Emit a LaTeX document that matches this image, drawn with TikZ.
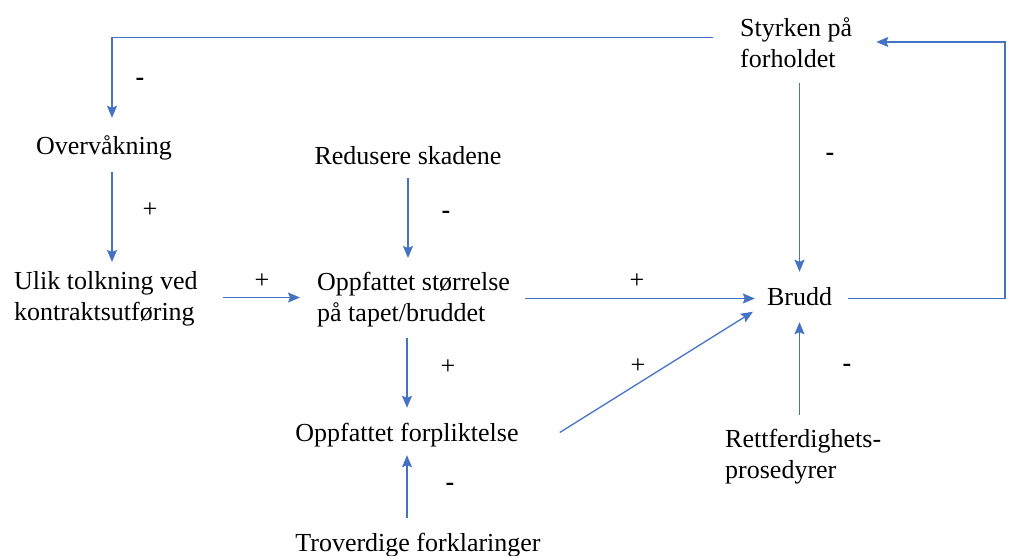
\documentclass[tikz,border=0pt]{standalone}
\usepackage{fontspec}
\setmainfont{Liberation Serif}
\usetikzlibrary{arrows.meta}
\definecolor{arrblue}{HTML}{4472C4}

\begin{document}
\begin{tikzpicture}[x=1pt, y=-1pt,
  every node/.style={inner sep=0pt, font=\fontsize{26}{31}\selectfont},
  lbl/.style={text height=19pt, text depth=6pt},
  blk/.style={align=left, anchor=north west},
  arr/.style={draw=arrblue, line width=1.3pt, -{Stealth[length=12pt, width=10pt, inset=2pt]}},
  sign/.style={font=\fontsize{26}{31}\selectfont}]

\useasboundingbox (0,0) rectangle (1028,556);

\node[blk] (sty) at (740, 17) {Styrken på\\forholdet};
\node[lbl] (ovr) at (104, 148.5) {Overvåkning};
\node[lbl] (red) at (408, 158.5) {Redusere skadene};
\node[blk] (ulik) at (14, 271) {Ulik tolkning ved\\kontraktsutføring};
\node[blk] (stor) at (317, 272) {Oppfattet størrelse\\på tapet/bruddet};
\node[lbl] (brudd) at (799.5, 298.5) {Brudd};
\node[lbl] (forp) at (407, 434.5) {Oppfattet forpliktelse};
\node[blk] (rett) at (725, 429) {Rettferdighets-\\prosedyrer};
\node[lbl] (trov) at (418, 544.5) {Troverdige forklaringer};

\node[sign] (m1) at (140, 82) {\textbf{-}};
\node[sign] (p1) at (150, 210) {+};
\node[sign] (p2) at (262, 281) {+};
\node[sign] (m2) at (446, 215) {\textbf{-}};
\node[sign] (p3) at (637, 281) {+};
\node[sign] (p4) at (448, 367) {+};
\node[sign] (p5) at (638, 366) {+};
\node[sign] (m3) at (450, 487) {\textbf{-}};
\node[sign] (m4) at (847, 368) {\textbf{-}};
\node[sign] (m5) at (830, 157) {\textbf{-}};

\coordinate (loopR) at (1005, 42);

\draw[arr, shorten <=27pt, shorten >=18pt] ([yshift=4.5pt]sty.west) -| ([xshift=8pt]ovr.north);
\draw[arr, shorten <=11pt, shorten >=9pt] ([xshift=8pt]ovr.south) -- ([xshift=8pt]ovr.south |- ulik.north);
\draw[arr, shorten <=25pt, shorten >=17pt] ([yshift=1pt]ulik.east) -- ([yshift=1pt]ulik.east -| stor.west);
\draw[arr, shorten <=7pt, shorten >=14pt] (red.south) -- (red.south |- stor.north);
\draw[arr, shorten <=15pt, shorten >=12pt] (brudd.west -| stor.east) -- (brudd.west);
\draw[arr, shorten <=11pt, shorten >=14pt] (stor.south -| forp.north) -- (forp.north);
\draw[arr, shorten >=1pt] ([xshift=41pt, yshift=2pt]forp.east) -- ([xshift=-13pt]brudd.south west);
\draw[arr, shorten <=14pt, shorten >=8pt] (forp.south |- trov.north) -- (forp.south);
\draw[arr, shorten <=14pt, shorten >=11pt] (brudd.south |- rett.north) -- (brudd.south);
\draw[arr, shorten <=16pt, shorten >=14pt] (sty.south -| brudd.north) -- (brudd.north);
\draw[arr, shorten <=16pt, shorten >=24pt] (brudd.east) -| (loopR) -- (sty.east |- loopR);

\end{tikzpicture}
\end{document}
